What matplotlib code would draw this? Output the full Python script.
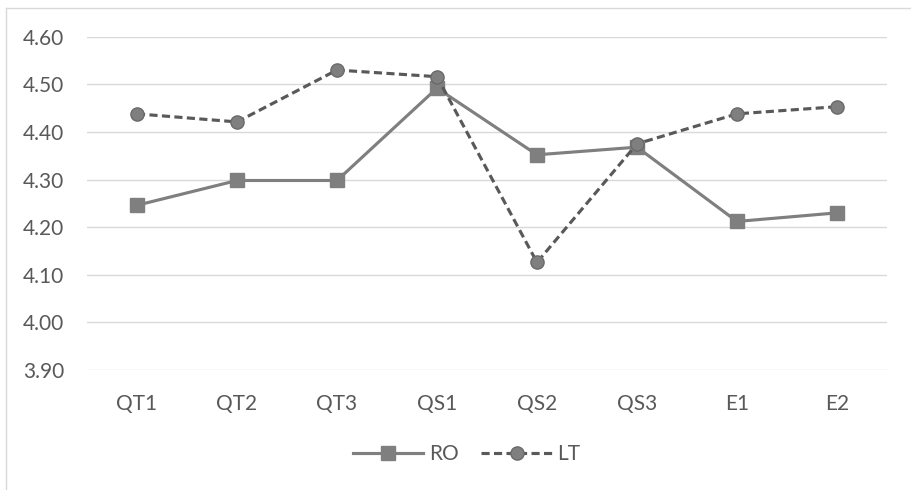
import matplotlib.pyplot as plt
from matplotlib.lines import Line2D

categories = ["QT1", "QT2", "QT3", "QS1", "QS2", "QS3", "E1", "E2"]
ro = [4.246, 4.298, 4.298, 4.492, 4.352, 4.368, 4.212, 4.230]
lt = [4.438, 4.421, 4.530, 4.516, 4.126, 4.375, 4.438, 4.453]
yticks = [3.90, 4.00, 4.10, 4.20, 4.30, 4.40, 4.50, 4.60]

plt.rcParams['font.family'] = ['Lato', 'DejaVu Sans']
text_color = "#595959"

W, H = 911, 490
fig = plt.figure(figsize=(W / 100, H / 100), dpi=100)
ax = fig.add_axes([87 / W, 120 / H, 800 / W, 333.3 / H])

x = range(len(categories))
# series
ax.plot(x, ro, color="#7f7f7f", lw=2.25, marker="s", markersize=9.5,
        markerfacecolor="#7f7f7f", markeredgecolor="#7f7f7f", label="RO", zorder=3)
ax.plot(x, lt, color="#595959", lw=2.25, linestyle=(0, (2.6, 1.4)), marker="o",
        markersize=9.5, markerfacecolor="#7f7f7f", markeredgecolor="#6a6a6a",
        label="LT", zorder=4)

ax.set_xlim(-0.5, len(categories) - 0.5)
ax.set_ylim(3.90, 4.60)
ax.set_yticks(yticks)
ax.set_yticklabels([f"{v:.2f}" for v in yticks])
ax.set_xticks(list(x))
ax.set_xticklabels(categories)
ax.tick_params(axis="both", length=0, labelsize=15, labelcolor=text_color)
ax.tick_params(axis="y", pad=16.5)
ax.tick_params(axis="x", pad=17)

ax.grid(axis="y", color="#d9d9d9", lw=1.0)
ax.set_axisbelow(True)
for s in ax.spines.values():
    s.set_visible(False)

leg = fig.legend(loc="center", bbox_to_anchor=(466.5 / W, 1 - 454 / H), ncol=2,
                 frameon=False, fontsize=15, handlelength=3.4, handletextpad=0.25,
                 columnspacing=1.1, borderpad=0)
for t in leg.get_texts():
    t.set_color(text_color)

# chart area border (left and top edges)
fig.add_artist(Line2D([5.5 / W, 5.5 / W], [0, 1 - 8 / H], color="#d9d9d9", lw=1.0,
                      transform=fig.transFigure))
fig.add_artist(Line2D([5.5 / W, 1], [1 - 8 / H, 1 - 8 / H], color="#d9d9d9", lw=1.0,
                      transform=fig.transFigure))

fig.savefig("out.png", dpi=100)
